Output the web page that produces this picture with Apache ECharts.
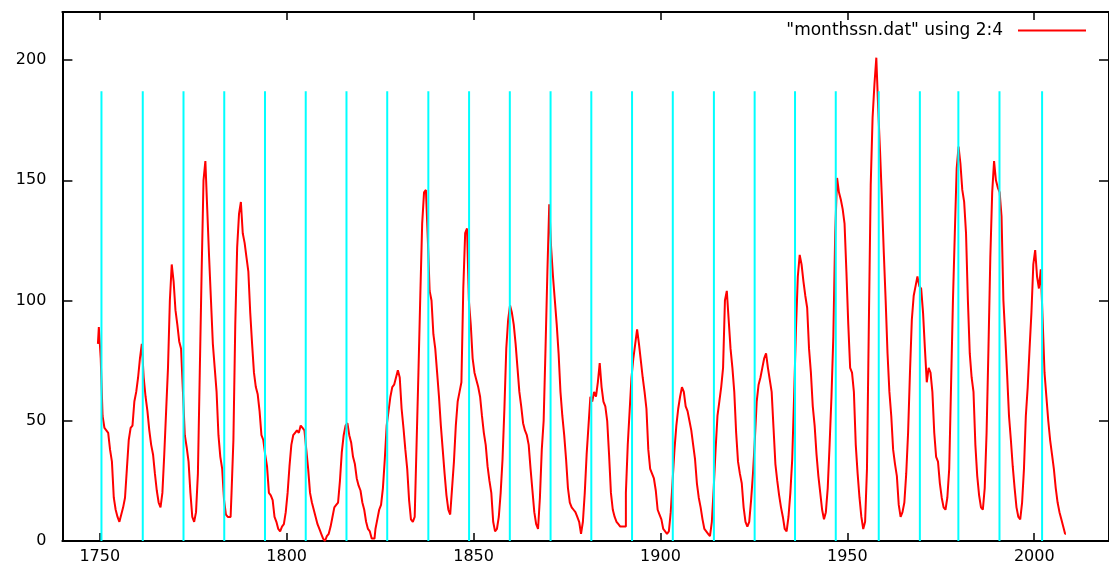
<!DOCTYPE html>
<html>
<head>
<meta charset="utf-8">
<script src="https://cdn.jsdelivr.net/npm/echarts@6/dist/echarts.min.js"></script>
<style>
  html, body { margin: 0; padding: 0; background: #ffffff; }
  #chart { width: 1109px; height: 565px; }
</style>
</head>
<body>
<div id="chart"></div>
<script>
// Smoothed monthly sunspot number, sampled every half year from 1749.5
const seriesName = '"monthssn.dat" using 2:4';
const startYear = 1749.5;
const stepYears = 0.5;
const ssn = [
  82,
  /* 1750 */ 89, 76, 52, 47, 46, 45, 38, 33, 18, 13, 10, 8, 11, 14, 18, 30, 42, 47, 48, 58,
  /* 1760 */ 62, 68, 76, 82, 68, 60, 54, 46, 40, 36, 28, 21, 16, 14, 20, 36, 54, 72, 100, 115,
  /* 1770 */ 108, 96, 90, 83, 80, 62, 44, 39, 33, 20, 10, 8, 12, 28, 70, 112, 150, 158, 138, 118,
  /* 1780 */ 100, 82, 72, 62, 44, 35, 30, 17, 11, 10, 10, 20, 42, 90, 122, 136, 141, 128, 124, 118,
  /* 1790 */ 112, 95, 82, 70, 64, 61, 54, 44, 42, 36, 31, 20, 19, 17, 10, 8, 5, 4, 6, 7,
  /* 1800 */ 12, 20, 31, 40, 44, 45, 46, 45, 48, 47, 46, 38, 30, 20, 16, 13, 10, 7, 5, 3,
  /* 1810 */ 1, 0, 2, 3, 6, 10, 14, 15, 16, 25, 37, 44, 48, 49, 44, 41, 35, 32, 26, 23,
  /* 1820 */ 21, 16, 13, 8, 5, 4, 1, 1, 5, 9, 13, 15, 22, 34, 48, 54, 60, 64, 65, 68,
  /* 1830 */ 71, 68, 55, 47, 38, 30, 17, 9, 8, 10, 40, 70, 102, 132, 145, 146, 126, 104, 100, 86,
  /* 1840 */ 80, 70, 60, 48, 38, 28, 19, 13, 11, 22, 33, 48, 58, 62, 66, 105, 128, 130, 100, 90,
  /* 1850 */ 76, 70, 67, 64, 60, 52, 45, 40, 31, 25, 20, 8, 4, 5, 10, 20, 34, 55, 80, 92,
  /* 1860 */ 98, 95, 90, 82, 72, 62, 56, 49, 46, 44, 40, 30, 21, 12, 7, 5, 18, 38, 50, 80,
  /* 1870 */ 112, 140, 122, 110, 100, 90, 78, 62, 52, 44, 34, 22, 16, 14, 13, 12, 10, 8, 3, 8,
  /* 1880 */ 20, 36, 48, 60, 58, 62, 60, 66, 74, 64, 58, 56, 50, 36, 20, 13, 10, 8, 7, 6,
  /* 1890 */ 6, 6, 20, 40, 54, 68, 76, 82, 88, 82, 75, 68, 62, 55, 38, 30, 28, 26, 21, 13,
  /* 1900 */ 11, 9, 5, 4, 3, 4, 12, 25, 38, 48, 55, 60, 64, 62, 56, 54, 50, 46, 40, 34,
  /* 1910 */ 24, 18, 14, 9, 5, 4, 3, 2, 8, 22, 38, 52, 58, 64, 72, 100, 104, 92, 80, 72,
  /* 1920 */ 62, 45, 33, 28, 24, 14, 8, 6, 8, 17, 28, 42, 58, 65, 68, 72, 76, 78, 72, 67,
  /* 1930 */ 62, 47, 32, 25, 19, 14, 10, 5, 4, 10, 20, 34, 60, 88, 110, 119, 115, 108, 102, 97,
  /* 1940 */ 80, 70, 56, 48, 36, 27, 20, 13, 9, 12, 22, 40, 60, 85, 128, 151, 145, 142, 138, 132,
  /* 1950 */ 112, 90, 72, 70, 62, 40, 28, 18, 10, 5, 8, 30, 90, 148, 176, 190, 201, 180, 162, 142,
  /* 1960 */ 120, 100, 78, 62, 52, 38, 32, 27, 15, 10, 12, 16, 28, 45, 70, 92, 102, 106, 110, 106,
  /* 1970 */ 105, 95, 80, 66, 72, 70, 62, 45, 35, 33, 24, 18, 14, 13, 18, 30, 65, 100, 128, 155,
  /* 1980 */ 164, 157, 146, 141, 128, 100, 78, 68, 62, 40, 27, 19, 14, 13, 22, 45, 80, 118, 145, 158,
  /* 1990 */ 150, 147, 145, 135, 100, 85, 69, 52, 42, 31, 22, 14, 10, 9, 16, 30, 52, 64, 80, 95,
  /* 2000 */ 115, 121, 110, 105, 113, 92, 70, 60, 50, 42, 36, 30, 22, 16, 12, 9, 6, 3
];

// Vertical cycle markers (year, drawn from 0 up to markerHeight)
const markerYears = [
  1750.45, 1761.5, 1772.4, 1783.3, 1794.2, 1805.1, 1816.0, 1826.9,
  1837.9, 1848.8, 1859.7, 1870.6, 1881.5, 1892.4, 1903.3, 1914.3,
  1925.2, 1936.0, 1946.9, 1958.4, 1969.4, 1979.7, 1990.7, 2002.1
];
const markerHeight = 187;

const xTicks = [1750, 1800, 1850, 1900, 1950, 2000];
const yTicks = [0, 50, 100, 150, 200];

const ssnPoints = ssn.map((v, i) => [startYear + i * stepYears, v]);
const markerPoints = markerYears.map(y => [y, markerHeight]);

const labelFont = { fontFamily: 'DejaVu Sans', fontSize: 16, color: '#000000' };
const frameLine = { color: '#000000', width: 2 };
const plainNumber = v => String(v);

function xAxisDef(pos, showLabels) {
  return {
    type: 'value', position: pos, min: 1740, max: 2020,
    axisLine: { show: true, onZero: false, lineStyle: frameLine },
    axisTick: { show: true, inside: true, length: 8, customValues: xTicks,
                lineStyle: { color: '#000000', width: 1.5 } },
    axisLabel: Object.assign({ show: showLabels, customValues: xTicks, margin: 8,
                               formatter: plainNumber }, labelFont),
    splitLine: { show: false }
  };
}
function yAxisDef(pos, showLabels) {
  return {
    type: 'value', position: pos, min: 0, max: 220,
    axisLine: { show: true, onZero: false, lineStyle: frameLine },
    axisTick: { show: true, inside: true, length: 10, customValues: yTicks,
                lineStyle: { color: '#000000', width: 1.5 } },
    axisLabel: Object.assign({ show: showLabels, customValues: yTicks, margin: 16,
                               formatter: plainNumber }, labelFont),
    splitLine: { show: false }
  };
}

const chart = echarts.init(document.getElementById('chart'), null, { renderer: 'canvas' });
chart.setOption({
  animation: false,
  backgroundColor: '#ffffff',
  grid: { left: 62.4, top: 12, width: 1053.6, height: 531, containLabel: false },
  legend: {
    data: [seriesName],
    right: 18, top: 17,
    align: 'right',
    icon: 'rect',
    itemWidth: 68, itemHeight: 2,
    textStyle: { fontFamily: 'DejaVu Sans', fontSize: 17, color: '#000000', padding: [0, 10, 0, 0] }
  },
  xAxis: [xAxisDef('bottom', true), xAxisDef('top', false)],
  yAxis: [yAxisDef('left', true), yAxisDef('right', false)],
  series: [
    {
      name: seriesName,
      type: 'line',
      xAxisIndex: 0, yAxisIndex: 0,
      data: ssnPoints,
      step: 'middle',
      showSymbol: false, symbol: 'none',
      color: '#ff0000',
      lineStyle: { color: '#ff0000', width: 2 },
      z: 2
    },
    {
      name: 'markers',
      type: 'custom',
      xAxisIndex: 0, yAxisIndex: 0,
      data: markerPoints,
      z: 3,
      renderItem: function (params, api) {
        const p0 = api.coord([api.value(0), 0]);
        const p1 = api.coord([api.value(0), api.value(1)]);
        return {
          type: 'line',
          shape: { x1: p0[0], y1: p0[1], x2: p1[0], y2: p1[1] },
          style: { stroke: '#00ffff', lineWidth: 2 }
        };
      }
    }
  ]
});
</script>
</body>
</html>
